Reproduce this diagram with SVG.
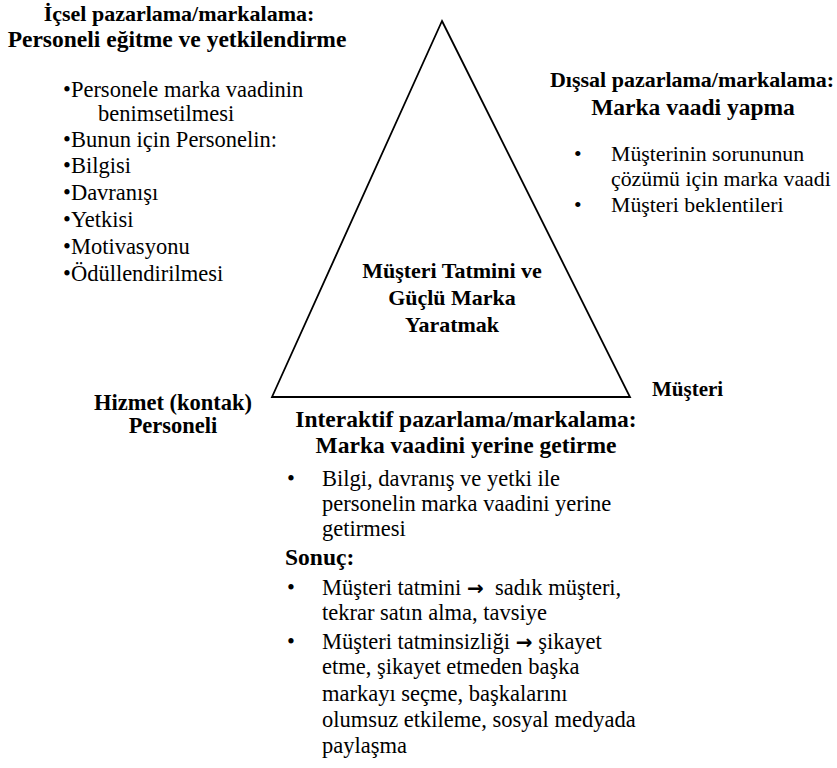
<svg xmlns="http://www.w3.org/2000/svg" width="837" height="768" viewBox="0 0 837 768" font-family="'Liberation Serif', 'DejaVu Serif', serif">
<style>
text{font-family:'Liberation Serif','DejaVu Serif',serif;fill:#000}
.h1{font-weight:bold;font-size:22px}
.h2{font-weight:bold;font-size:23.5px}
.b{font-size:22.5px}
.r{font-size:21.8px}
.c{font-weight:bold;font-size:22px;text-anchor:middle}
.m{text-anchor:middle}
.ar{font-family:'DejaVu Sans',sans-serif;font-weight:bold;font-size:20px}
.tri{fill:none;stroke:#000;stroke-width:1.8;stroke-linejoin:miter}
</style>
<rect width="837" height="768" fill="#fff"/>
<g id="connectors">
<polygon class="tri" points="442,21 630,397 272,397"/>
</g>
<g id="center">
<text class="c" x="452" y="278">Müşteri Tatmini ve</text>
<text class="c" x="452" y="305">Güçlü Marka</text>
<text class="c" x="452" y="332">Yaratmak</text>
</g>
<g id="internal">
<text class="h1 m" x="179" y="21">İçsel pazarlama/markalama:</text>
<text class="h2 m" x="177" y="47">Personeli eğitme ve yetkilendirme</text>
<text class="b" x="63" y="97">•Personele marka vaadinin</text>
<text class="b" x="98" y="121">benimsetilmesi</text>
<text class="b" x="63" y="147">•Bunun için Personelin:</text>
<text class="b" x="63" y="173">•Bilgisi</text>
<text class="b" x="63" y="200">•Davranışı</text>
<text class="b" x="63" y="227">•Yetkisi</text>
<text class="b" x="63" y="254">•Motivasyonu</text>
<text class="b" x="63" y="281">•Ödüllendirilmesi</text>
</g>
<g id="external">
<text class="h1 m" x="692" y="87">Dışsal pazarlama/markalama:</text>
<text class="h2 m" x="693" y="115">Marka vaadi yapma</text>
<text class="r" x="574" y="161">•</text>
<text class="r" x="611" y="161">Müşterinin sorununun</text>
<text class="r" x="611" y="186">çözümü için marka vaadi</text>
<text class="r" x="574" y="212">•</text>
<text class="r" x="611" y="212">Müşteri beklentileri</text>
</g>
<g id="personnel">
<text class="c" x="173" y="410" style="font-size:22.5px">Hizmet (kontak)</text>
<text class="c" x="173" y="433" style="font-size:22.5px">Personeli</text>
</g>
<g id="customer">
<text class="h1" x="652" y="396" style="font-size:21px">Müşteri</text>
</g>
<g id="interactive">
<text class="h2 m" x="466" y="427">Interaktif pazarlama/markalama:</text>
<text class="h2 m" x="466" y="453">Marka vaadini yerine getirme</text>
<text class="b" x="287" y="486">•</text>
<text class="b" x="322" y="486">Bilgi, davranış ve yetki ile</text>
<text class="b" x="322" y="511">personelin marka vaadini yerine</text>
<text class="b" x="322" y="536">getirmesi</text>
<text class="h2" x="285" y="565">Sonuç:</text>
<text class="b" x="287" y="595">•</text>
<text class="b" x="322" y="595">Müşteri tatmini <tspan class="ar">→</tspan>&#160; sadık müşteri,</text>
<text class="b" x="322" y="620">tekrar satın alma, tavsiye</text>
<text class="b" x="287" y="649">•</text>
<text class="b" x="322" y="649">Müşteri tatminsizliği <tspan class="ar">→</tspan> şikayet</text>
<text class="b" x="322" y="674">etme, şikayet etmeden başka</text>
<text class="b" x="322" y="701">markayı seçme, başkalarını</text>
<text class="b" x="322" y="727">olumsuz etkileme, sosyal medyada</text>
<text class="b" x="322" y="753">paylaşma</text>
</g>
</svg>
